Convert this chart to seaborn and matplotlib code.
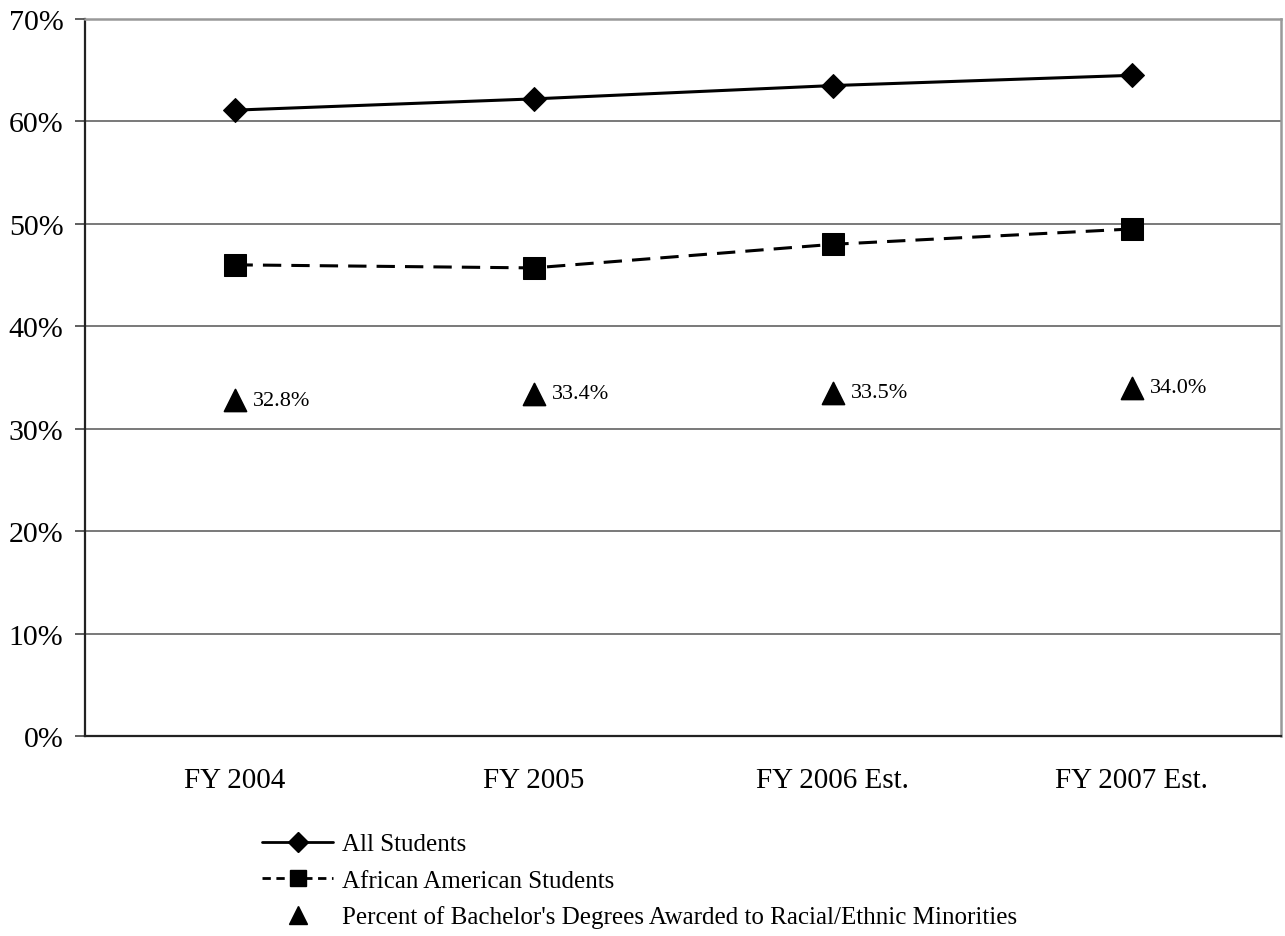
import matplotlib
matplotlib.use("Agg")
import matplotlib.pyplot as plt
from matplotlib.lines import Line2D
from matplotlib.ticker import FixedLocator, PercentFormatter
import pandas as pd
import seaborn as sns

years = ["FY 2004", "FY 2005", "FY 2006 Est.", "FY 2007 Est."]
all_students = [61.1, 62.2, 63.5, 64.5]
african_american = [46.0, 45.7, 48.0, 49.5]
minority_degrees = [32.8, 33.4, 33.5, 34.0]

sns.set_theme(style="white")
plt.rcParams["font.family"] = ["Liberation Serif", "DejaVu Serif"]
plt.rcParams["text.color"] = "black"
plt.rcParams["xtick.color"] = "black"
plt.rcParams["ytick.color"] = "black"
plt.rcParams["xtick.labelcolor"] = "black"
plt.rcParams["ytick.labelcolor"] = "black"

df = pd.DataFrame({
    "year": years,
    "all": all_students,
    "aa": african_american,
    "min": minority_degrees,
})

W, H = 1285, 937
fig = plt.figure(figsize=(W / 100, H / 100), dpi=100)
ax = fig.add_axes([85 / W, 1 - 737 / H, (1281 - 85) / W, (737 - 20) / H])

sns.lineplot(data=df, x="year", y="all", ax=ax, color="black", lw=2.2,
             marker="D", markersize=12, markeredgecolor="black", sort=False)
sns.lineplot(data=df, x="year", y="aa", ax=ax, color="black", lw=2.2,
             linestyle=(0, (6.0, 3.3)), marker="s", markersize=15.5,
             markeredgecolor="black", sort=False)
sns.scatterplot(data=df, x="year", y="min", ax=ax, color="black",
                marker="^", s=250, edgecolor="black", zorder=3)

for i, v in enumerate(minority_degrees):
    ax.annotate(f"{v:.1f}%", (i, v), xytext=(13, 0), textcoords="offset points",
                fontsize=16, va="center", ha="left", color="black")

ax.set_xlim(-0.5, 3.5)
ax.set_ylim(0, 70)
ax.yaxis.set_major_locator(FixedLocator(range(0, 71, 10)))
ax.yaxis.set_major_formatter(PercentFormatter(decimals=0))
ax.grid(axis="y", color="#555555", lw=1.1)
ax.set_axisbelow(True)

ax.set_xticks(range(len(years)))
ax.set_xticklabels(years)
ax.xaxis.set_minor_locator(FixedLocator([-0.5, 0.5, 1.5, 2.5, 3.5]))
ax.tick_params(axis="x", which="major", length=0, pad=22, labelsize=21)
ax.tick_params(axis="x", which="minor", length=7, width=1.1, color="#333333", direction="out")
ax.tick_params(axis="y", length=7, width=1.1, color="#333333", direction="out",
               labelsize=21.5, pad=8.5, left=True)
ax.set_xlabel("")
ax.set_ylabel("")

for side in ("left", "bottom"):
    ax.spines[side].set_color("#222222")
    ax.spines[side].set_linewidth(1.6)
for side in ("top", "right"):
    ax.spines[side].set_color("#999999")
    ax.spines[side].set_linewidth(1.8)

handles = [
    Line2D([], [], color="black", lw=2, marker="D", markersize=10),
    Line2D([], [], color="black", lw=2, linestyle=(0, (3, 2)), marker="s", markersize=12),
    Line2D([], [], color="black", lw=0, marker="^", markersize=13),
]
labels = [
    "All Students",
    "African American Students",
    "Percent of Bachelor's Degrees Awarded to Racial/Ethnic Minorities",
]
fig.legend(handles, labels, loc="upper left", bbox_to_anchor=(262 / W, 1 - 834 / H),
           frameon=False, fontsize=18, handlelength=2.85, handletextpad=0.35,
           labelspacing=0.55, borderaxespad=0, borderpad=0)

fig.savefig("out.png", dpi=100, facecolor="white")
